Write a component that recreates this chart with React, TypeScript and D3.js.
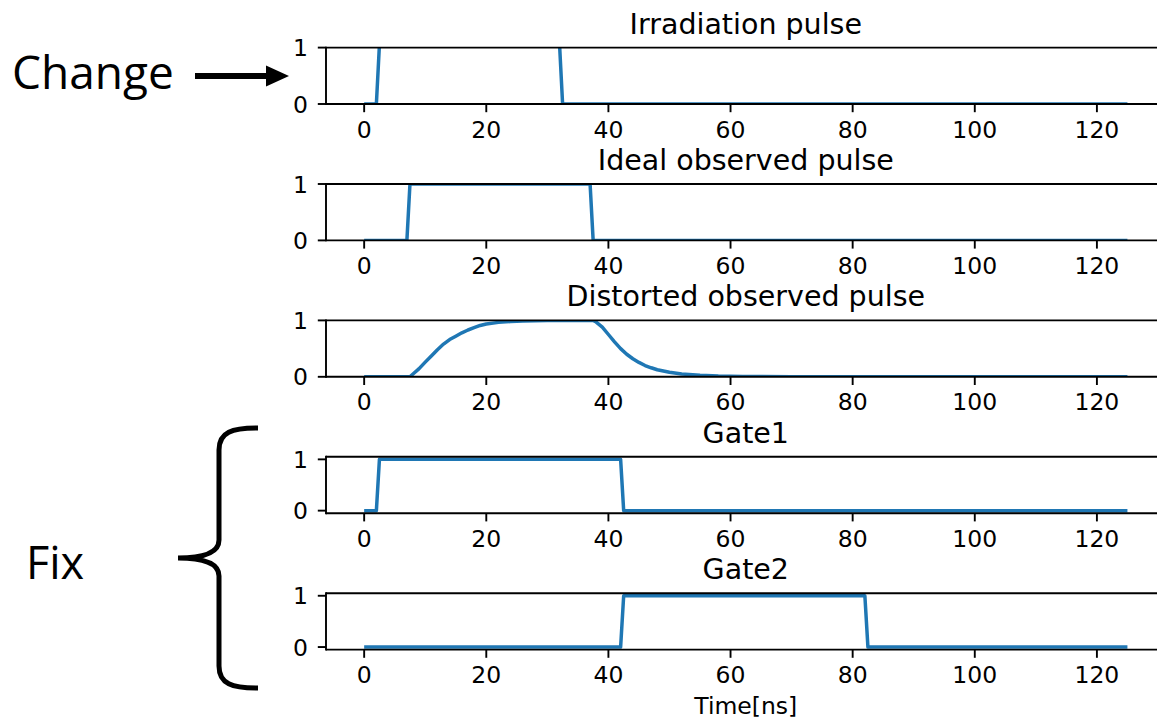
import React from 'react';
import * as d3 from 'd3';

// breakpoints of each trace (time in ns, value)
// irradiation high level runs just past the top of its axes (hidden by the spine)
const irrT = [0, 2, 2.5, 32, 32.5, 125];
const irrV = [0, 0, 1.05, 1.05, 0, 0];

const idealT = [0, 7, 7.5, 37, 37.5, 125];
const idealV = [0, 0, 1, 1, 0, 0];

const distT = [0, 7, 7.5, 8, 9, 10, 11, 12, 13, 14, 15, 16, 17, 18, 19, 20, 22, 24, 26, 28, 30, 37.5,
  38, 39, 40, 41, 42, 43, 44, 45, 46, 47, 48, 50, 52, 55, 58, 62, 70, 80, 125];
const distV = [0, 0, 0, 0.05, 0.145, 0.26, 0.37, 0.48, 0.58, 0.66, 0.72, 0.78, 0.83, 0.87, 0.91, 0.935,
  0.965, 0.982, 0.99, 0.995, 1, 1,
  0.97, 0.88, 0.75, 0.62, 0.5, 0.4, 0.32, 0.255, 0.2, 0.16, 0.125, 0.08, 0.05, 0.028, 0.014, 0.006, 0.002, 0, 0];

const gate1T = [0, 2, 2.5, 42, 42.5, 125];
const gate1V = [0, 0, 1, 1, 0, 0];

const gate2T = [0, 42, 42.5, 82, 82.5, 125];
const gate2V = [0, 0, 1, 1, 0, 0];

const titles = ['Irradiation pulse', 'Ideal observed pulse', 'Distorted observed pulse', 'Gate1', 'Gate2'];
const xTicks = [0, 20, 40, 60, 80, 100, 120];
const yTicks = [0, 1];

const panels = [
  { title: titles[0], t: irrT, v: irrV, ylim: [0, 1] },
  { title: titles[1], t: idealT, v: idealV, ylim: [0, 1] },
  { title: titles[2], t: distT, v: distV, ylim: [0, 1] },
  { title: titles[3], t: gate1T, v: gate1V, ylim: [-0.05, 1.05] },
  { title: titles[4], t: gate2T, v: gate2V, ylim: [-0.05, 1.05] },
];

const W = 1157, H = 721;
const left = 326, right = 1165.6;
const top0 = 47.6, step = 136.4, ph = 56.4;
const tickFont = 23.5;
const mpl = "'DejaVu Sans', sans-serif";
const blue = '#1f77b4';

const x = d3.scaleLinear().domain([-6.25, 131.25]).range([left, right]);

function Panel({ p, i }) {
  const top = top0 + step * i;
  const bottom = top + ph;
  const y = d3.scaleLinear().domain(p.ylim).range([bottom, top]);
  const pts = p.t.map((t, k) => [t, p.v[k]]);
  const line = d3.line().x(d => x(d[0])).y(d => y(d[1]));
  const clipId = 'clip' + i;
  return (
    <g>
      <clipPath id={clipId}>
        <rect x={left} y={top} width={right - left} height={ph} />
      </clipPath>
      <path d={line(pts)} fill="none" stroke={blue} strokeWidth={3.5} strokeLinejoin="round" clipPath={`url(#${clipId})`} />
      <line x1={left} x2={right} y1={top} y2={top} stroke="#000" strokeWidth={1.9} />
      <line x1={left} x2={right} y1={bottom} y2={bottom} stroke="#000" strokeWidth={1.9} />
      <line x1={left} x2={left} y1={top} y2={bottom} stroke="#000" strokeWidth={1.9} strokeLinecap="square" />
      <line x1={right} x2={right} y1={top} y2={bottom} stroke="#000" strokeWidth={1.9} />
      {xTicks.map(t => (
        <g key={t}>
          <line x1={x(t)} x2={x(t)} y1={bottom} y2={bottom + 8.2} stroke="#000" strokeWidth={1.9} />
          <text x={x(t)} y={bottom + 33.5} textAnchor="middle" fontFamily={mpl} fontSize={tickFont} fill="#000">{t}</text>
        </g>
      ))}
      {yTicks.map(t => (
        <g key={t}>
          <line x1={left - 8.2} x2={left} y1={y(t)} y2={y(t)} stroke="#000" strokeWidth={1.9} />
          <text x={left - 18} y={y(t) + 8.6} textAnchor="end" fontFamily={mpl} fontSize={tickFont} fill="#000">{t}</text>
        </g>
      ))}
      <text x={(left + right) / 2} y={top - 14} textAnchor="middle" fontFamily={mpl} fontSize={28.5} fill="#000">{p.title}</text>
    </g>
  );
}

export default function App() {
  const lastBottom = top0 + step * 4 + ph;
  return (
    <svg width={W} height={H} style={{ position: 'absolute', left: 0, top: 0, background: '#fff' }}>
      <rect x={0} y={0} width={W} height={H} fill="#fff" />
      {panels.map((p, i) => <Panel key={i} p={p} i={i} />)}
      <text x={(left + right) / 2} y={lastBottom + 64} textAnchor="middle" fontFamily={mpl} fontSize={tickFont} fill="#000">Time[ns]</text>

      {/* annotations */}
      <text x={12} y={89} fontFamily="'Open Sans', sans-serif" fontSize={46} fill="#000">Change</text>
      <line x1={195} x2={268} y1={76} y2={76} stroke="#000" strokeWidth={6} />
      <path d="M266,65.5 L289,76 L266,86.5 Z" fill="#000" />

      <text x={26} y={579} fontFamily="'Open Sans', sans-serif" fontSize={45} fill="#000">Fix</text>
      <path d="M258,428 C232,428 219,432 219,450 L219,540 C219,552 205,558 178,558 C205,558 219,564 219,576 L219,666 C219,684 232,688 258,688"
        fill="none" stroke="#000" strokeWidth={5} />
    </svg>
  );
}
